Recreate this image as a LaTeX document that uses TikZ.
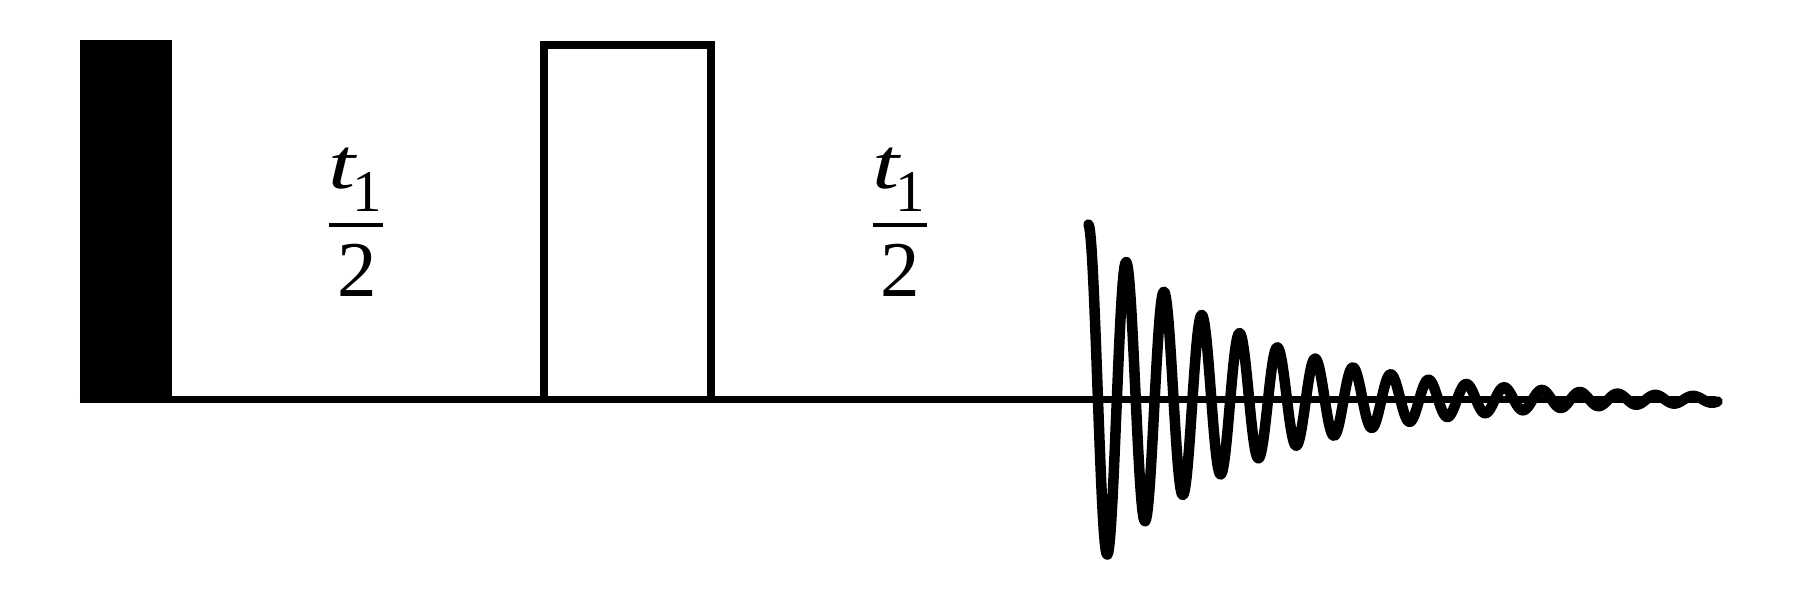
\documentclass[tikz,border=0pt]{standalone}
\usepackage{fontspec}
\setmainfont{Liberation Serif}
\newfontfamily\tfont[FakeStretch=1.35]{Liberation Serif}
\begin{document}
\begin{tikzpicture}[x=1pt,y=-1pt,
  fractext/.style={font=\fontsize{79}{84}\selectfont, inner sep=0pt},
  fracbar/.style={line width=4.5pt},
  axisline/.style={line width=7.6pt},
  pulseopen/.style={line width=8pt, line join=miter},
  fidline/.style={line width=10.5pt, line cap=round, line join=round}]
\useasboundingbox (0,0) rectangle (1801,600);
% baseline
\coordinate (b0) at (79.5,399.5);
\coordinate (b1) at (1716,399.5);
\draw[axisline] (b0) -- (b1);
% 90 degree pulse (filled)
\fill (79.5,40) rectangle (171.5,403.3);
% 180 degree pulse (open)
\draw[pulseopen] (544,399.5) -- (544,44.8) -- (711,44.8) -- (711,399.5);
% delay labels t1/2
\node[fractext, anchor=base west] (num1) at (328.5,188) {{\tfont\itshape\fontsize{72}{78}\selectfont t}\kern-3.5pt\raisebox{-23pt}{\fontsize{59}{62}\selectfont 1}};
\node[fractext, anchor=base] (den1) at (357,296.5) {2};
\draw[fracbar] (328.5,225) -- (382.5,225);
\node[fractext, anchor=base west] (num2) at (871.8,188) {{\tfont\itshape\fontsize{72}{78}\selectfont t}\kern-3.5pt\raisebox{-23pt}{\fontsize{59}{62}\selectfont 1}};
\node[fractext, anchor=base] (den2) at (900.5,296.5) {2};
\draw[fracbar] (872.7,225) -- (926.7,225);
% FID
\draw[fidline] plot[domain=0:629, samples=700] ({1088.5+\x}, {399.5-175*exp(-0.006405*\x)*cos(9.5238*\x)});
\end{tikzpicture}
\end{document}
